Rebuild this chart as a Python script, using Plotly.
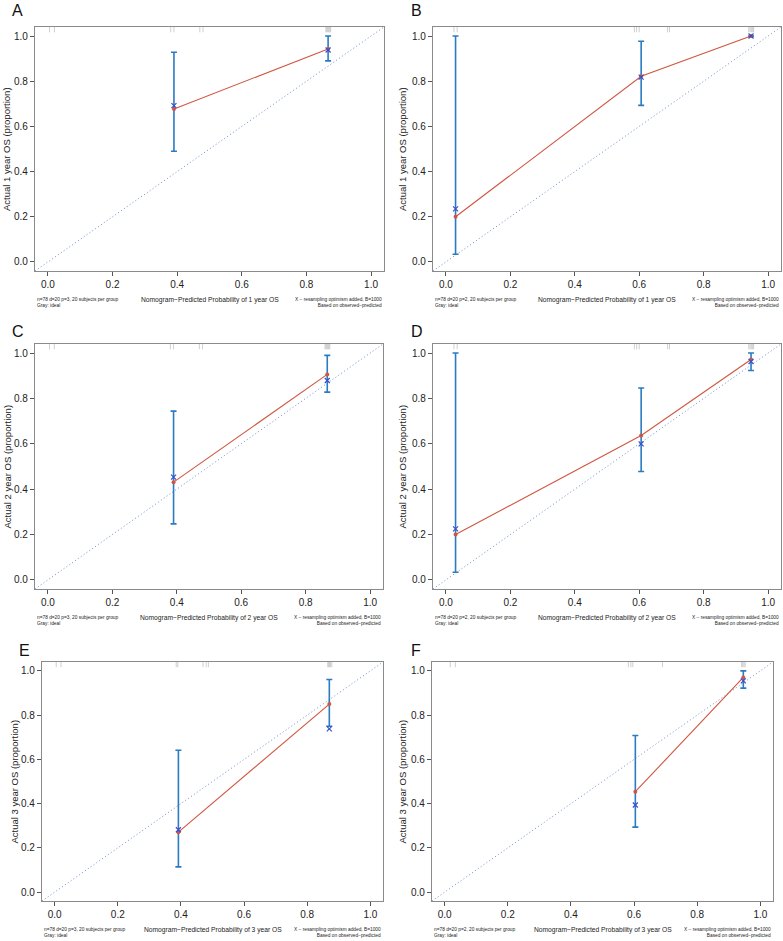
import plotly.graph_objects as go


# ==================================================
# 1. Data
# ==================================================

panel_labels = ["A", "B", "C", "D", "E", "F"]
years = [1, 1, 2, 2, 3, 3]
p_groups = [3, 2, 3, 2, 3, 2]

# nomogram-predicted probability per group
pred_A = [0.39, 0.867]
pred_B = [0.03, 0.606, 0.947]
pred_C = [0.39, 0.867]
pred_D = [0.03, 0.606, 0.947]
pred_E = [0.392, 0.870]
pred_F = [0.604, 0.946]

# observed (red points)
obs_A = [0.677, 0.943]
obs_B = [0.200, 0.822, 1.000]
obs_C = [0.431, 0.906]
obs_D = [0.200, 0.637, 0.972]
obs_E = [0.271, 0.850]
obs_F = [0.454, 0.970]

# optimism-corrected (blue X)
corr_A = [0.692, 0.938]
corr_B = [0.235, 0.818, 1.000]
corr_C = [0.453, 0.879]
corr_D = [0.225, 0.600, 0.963]
corr_E = [0.282, 0.738]
corr_F = [0.394, 0.955]

# confidence limits
lo_A = [0.490, 0.890]
hi_A = [0.928, 1.000]
lo_B = [0.034, 0.693, 0.998]
hi_B = [1.000, 0.977, 1.000]
lo_C = [0.247, 0.828]
hi_C = [0.744, 0.990]
lo_D = [0.034, 0.478, 0.923]
hi_D = [1.000, 0.846, 1.000]
lo_E = [0.114, 0.750]
hi_E = [0.641, 0.961]
lo_F = [0.294, 0.922]
hi_F = [0.708, 1.000]

# distribution of predicted values (rug at the top)
rug_A = [0.005, 0.02, 0.38, 0.39, 0.47, 0.48, 0.86, 0.863, 0.866, 0.869, 0.872, 0.875]
rug_B = [0.025, 0.035, 0.585, 0.592, 0.60, 0.688, 0.694, 0.94, 0.944, 0.948, 0.952, 0.955]
rug_C = [0.005, 0.02, 0.38, 0.39, 0.47, 0.48, 0.86, 0.863, 0.866, 0.869, 0.872, 0.875]
rug_D = [0.025, 0.035, 0.585, 0.592, 0.60, 0.688, 0.694, 0.94, 0.944, 0.948, 0.952, 0.955]
rug_E = [0.005, 0.02, 0.385, 0.39, 0.47, 0.48, 0.487, 0.865, 0.868, 0.871, 0.874, 0.878]
rug_F = [0.018, 0.034, 0.582, 0.59, 0.596, 0.69, 0.94, 0.944, 0.948, 0.952]

tick_vals = [0.0, 0.2, 0.4, 0.6, 0.8, 1.0]


panels = [
    (pred_A, obs_A, corr_A, lo_A, hi_A, rug_A),
    (pred_B, obs_B, corr_B, lo_B, hi_B, rug_B),
    (pred_C, obs_C, corr_C, lo_C, hi_C, rug_C),
    (pred_D, obs_D, corr_D, lo_D, hi_D, rug_D),
    (pred_E, obs_E, corr_E, lo_E, hi_E, rug_E),
    (pred_F, obs_F, corr_F, lo_F, hi_F, rug_F),
]


# ==================================================
# 2. Layout constants (pixels)
# ==================================================

W, H = 783, 941
AX_RANGE = [-0.04, 1.04]
RUG_Y = 1.029
FONT = "Liberation Sans, Arial, sans-serif"

# plot box: left, right, top, bottom
boxes = [
    (35, 384, 27, 271),
    (433, 781, 27, 271),
    (35, 383, 344, 589),
    (433, 781, 344, 589),
    (42, 383, 662, 901),
    (432, 773, 662, 901),
]

# panel letter position (left, top)
label_pos = [(10, 0), (409, 0), (10, 321), (409, 321), (17, 640), (409, 640)]

# y title centre x
ytitle_x = [6, 402, 7, 402, 14, 402]


def px(x):
    return x / W


def py(y):
    return 1 - y / H


RED = "#cf5640"
BLUE = "#2a7bc2"
XBLUE = "#3a4fc8"
IDEAL = "#6a8fc4"

fig = go.Figure()
annotations = []


# ==================================================
# 3. Panels
# ==================================================

for i, (pred, obs, corr, lo, hi, rug) in enumerate(panels):
    n = "" if i == 0 else str(i + 1)
    xref, yref = "x" + n, "y" + n
    left, right, top, bottom = boxes[i]

    # ideal line
    fig.add_trace(go.Scatter(
        x=AX_RANGE, y=AX_RANGE, mode="lines",
        line=dict(color=IDEAL, width=1, dash="1px,2.5px"),
        xaxis=xref, yaxis=yref, showlegend=False, hoverinfo="skip"
    ))

    # error bars
    fig.add_trace(go.Scatter(
        x=pred, y=obs, mode="markers",
        marker=dict(size=1, color="rgba(0,0,0,0)"),
        error_y=dict(
            type="data", symmetric=False,
            array=[h - o for h, o in zip(hi, obs)],
            arrayminus=[o - l for o, l in zip(obs, lo)],
            color=BLUE, thickness=1.6, width=3
        ),
        xaxis=xref, yaxis=yref, showlegend=False, hoverinfo="skip"
    ))

    # observed line
    fig.add_trace(go.Scatter(
        x=pred, y=obs, mode="lines+markers",
        line=dict(color=RED, width=1.1),
        marker=dict(size=4, color=RED),
        xaxis=xref, yaxis=yref, showlegend=False
    ))

    # bias-corrected X
    fig.add_trace(go.Scatter(
        x=pred, y=corr, mode="markers",
        marker=dict(symbol="x-thin", size=5,
                    line=dict(width=1.2, color=XBLUE)),
        xaxis=xref, yaxis=yref, showlegend=False
    ))

    # rug
    fig.add_trace(go.Scatter(
        x=rug, y=[RUG_Y] * len(rug), mode="markers",
        marker=dict(symbol="line-ns", size=4,
                    line=dict(width=1, color="rgba(120,120,120,0.35)")),
        xaxis=xref, yaxis=yref, showlegend=False, hoverinfo="skip"
    ))

    axis_common = dict(
        range=AX_RANGE,
        tickvals=tick_vals,
        tickformat=".1f",
        showline=True,
        mirror=True,
        linecolor="#8a8a8a",
        linewidth=1.3,
        ticks="outside",
        ticklen=4,
        tickcolor="#555555",
        tickfont=dict(size=10, color="#222222", family=FONT),
        showgrid=False,
        zeroline=False,
    )

    fig.update_layout({
        "xaxis" + n: dict(axis_common, domain=[px(left), px(right)], anchor=yref),
        "yaxis" + n: dict(axis_common, domain=[py(bottom), py(top)], anchor=xref),
    })

    yr = years[i]
    cx = (left + right) / 2
    cy = (top + bottom) / 2

    annotations += [
        dict(text=panel_labels[i], x=px(label_pos[i][0]), y=py(label_pos[i][1]),
             xanchor="left", yanchor="top", font=dict(size=16, color="#111")),
        dict(text=f"Actual {yr} year OS (proportion)", textangle=-90,
             x=px(ytitle_x[i]), y=py(cy), xanchor="center", yanchor="middle",
             font=dict(size=9.5, color="#222")),
        dict(text=f"Nomogram\u2212Predicted Probability of {yr} year OS",
             x=px(cx), y=py(bottom + 29), xanchor="center", yanchor="middle",
             font=dict(size=6.7, color="#222")),
        dict(text=f"n=78 d=20 p={p_groups[i]}, 20 subjects per group<br>Gray: ideal",
             x=px(left), y=py(bottom + 31), xanchor="left", yanchor="middle",
             align="left", font=dict(size=4.8, color="#222")),
        dict(text="X \u2212 resampling optimism added, B=1000<br>Based on observed\u2212predicted",
             x=px(right), y=py(bottom + 31), xanchor="right", yanchor="middle",
             align="right", font=dict(size=4.8, color="#222")),
    ]

for a in annotations:
    a.update(xref="paper", yref="paper", showarrow=False)


# ==================================================
# 4. Layout
# ==================================================

fig.update_layout(
    width=W,
    height=H,
    autosize=False,
    margin=dict(l=0, r=0, t=0, b=0),
    paper_bgcolor="white",
    plot_bgcolor="white",
    font=dict(family=FONT, color="#222"),
    annotations=annotations,
)

# page body has a default margin; remove it so the figure fills the window
fig.write_html(
    "out.html",
    config={"displayModeBar": False},
    post_script="document.body.style.margin='0';document.body.style.overflow='hidden';"
)
